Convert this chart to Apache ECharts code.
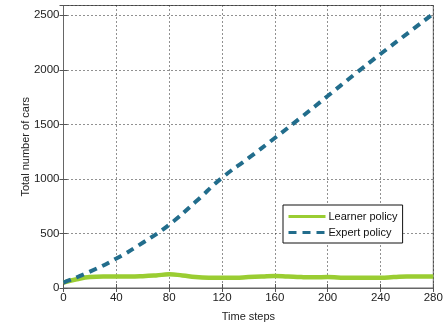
<!DOCTYPE html>
<html>
<head>
<meta charset="utf-8">
<script src="https://cdn.jsdelivr.net/npm/echarts@6/dist/echarts.min.js"></script>
<style>
  html, body {margin: 0; padding: 0; background: #fff;}
  #chart {width: 446px; height: 327px;}
</style>
</head>
<body>
<div id="chart"></div>
<script>
// time steps (x) for each series
const learnerSteps = [0, 10, 20, 30, 40, 50, 60, 70, 80, 90, 100, 110, 120, 130, 140,
    150, 160, 170, 180, 190, 200, 210, 220, 230, 240, 250, 260, 270, 280];
const learnerCars = [50, 80, 100, 105, 105, 105, 108, 115, 125, 115, 100, 95, 95, 95, 100,
    105, 110, 105, 100, 98, 100, 95, 95, 95, 95, 100, 105, 105, 105];

const expertSteps = [0, 20, 40, 60, 80, 100, 120, 140, 160, 180, 200, 220, 240, 260, 280];
const expertCars = [50, 150, 270, 415, 580, 790, 1010, 1190, 1375, 1565, 1760, 1955, 2145, 2330, 2515];

const yTicks = [0, 500, 1000, 1500, 2000, 2500];

const font = "'Liberation Sans', Arial, sans-serif";
const gridLine = {show: true, lineStyle: {color: "#222", type: [1, 3], width: 1}};
const tick = {show: true, inside: true, length: 4, lineStyle: {color: "#555"}};
const pair = (xs, ys) => xs.map((x, i) => [x, ys[i]]);

const myChart = echarts.init(document.getElementById("chart"));
myChart.setOption({
    animation: false,
    textStyle: {fontFamily: font},
    grid: {left: 63.5, right: 12.7, top: 5.5, bottom: 29.3, show: true, borderColor: "#666", borderWidth: 1},
    legend: {
        left: 283, top: 205,
        orient: "vertical",
        itemWidth: 37, itemHeight: 10, itemGap: 5,
        padding: [6, 5, 5, 4],
        backgroundColor: "#fff",
        borderColor: "#111", borderWidth: 1, borderRadius: 0,
        itemStyle: {opacity: 0},
        lineStyle: {width: 3},
        textStyle: {fontSize: 11, color: "#111", fontFamily: font, padding: [0, 0, 0, -2]},
        data: ["Learner policy", "Expert policy"]
    },
    xAxis: [{
        type: "value", min: 0, max: 280, interval: 40,
        name: "Time steps", nameLocation: "middle", nameGap: 23,
        nameTextStyle: {fontSize: 11, color: "#222"},
        axisLine: {show: true, lineStyle: {color: "#666"}},
        axisTick: tick,
        axisLabel: {fontSize: 11.5, color: "#222", margin: 4},
        splitLine: gridLine
    }, {
        type: "value", min: 0, max: 280, interval: 40, position: "top",
        axisLine: {show: false}, axisTick: tick, axisLabel: {show: false}, splitLine: {show: false}
    }],
    yAxis: [{
        type: "value", min: 0, max: 2590, interval: 500,
        name: "Total number of cars", nameLocation: "middle", nameGap: 32,
        nameMoveOverlap: false,
        nameTextStyle: {fontSize: 11, color: "#222"},
        axisLine: {show: true, lineStyle: {color: "#666"}},
        axisTick: tick,
        axisLabel: {fontSize: 11.5, color: "#222", margin: 4,
            formatter: v => (yTicks.indexOf(v) >= 0 ? String(v) : "")},
        splitLine: gridLine
    }, {
        type: "value", min: 0, max: 2590, interval: 500, position: "right",
        axisLine: {show: false}, axisTick: tick, axisLabel: {show: false}, splitLine: {show: false}
    }],
    series: [
        {
            name: "Learner policy",
            type: "line",
            smooth: true,
            symbol: "none",
            data: pair(learnerSteps, learnerCars),
            color: "#9acd32",
            lineStyle: {width: 4.5, color: "#9acd32"}
        },
        {
            name: "Expert policy",
            type: "line",
            smooth: true,
            symbol: "none",
            data: pair(expertSteps, expertCars),
            color: "#226d8c",
            lineStyle: {width: 4, color: "#226d8c", type: [8, 6]}
        }
    ]
});
</script>
</body>
</html>
